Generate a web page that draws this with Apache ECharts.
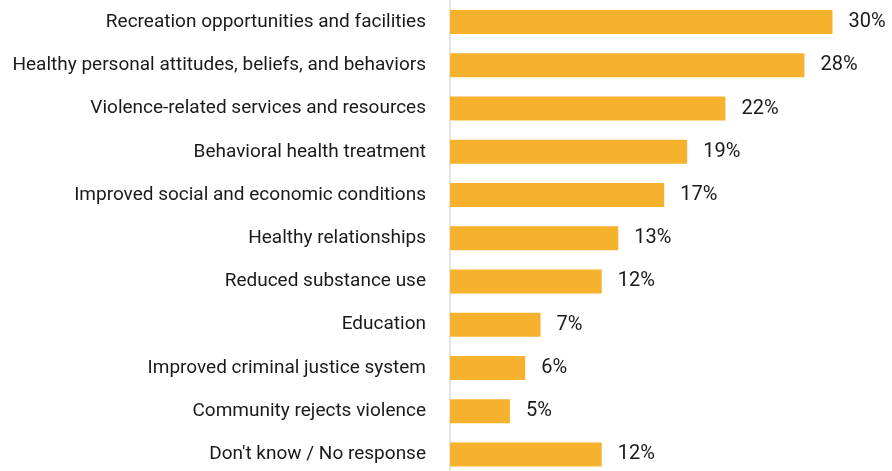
<!DOCTYPE html>
<html><head><meta charset="utf-8">
<script src="https://cdn.jsdelivr.net/npm/echarts@6/dist/echarts.min.js"></script>
<style>html,body{margin:0;padding:0;background:#fff}#c{width:892px;height:471px}</style>
</head><body><div id="c"></div>
<script>
const categories = [
  "Recreation opportunities and facilities",
  "Healthy personal attitudes, beliefs, and behaviors",
  "Violence-related services and resources",
  "Behavioral health treatment",
  "Improved social and economic conditions",
  "Healthy relationships",
  "Reduced substance use",
  "Education",
  "Improved criminal justice system",
  "Community rejects violence",
  "Don't know / No response"
];
const values = [30.1, 27.8, 21.6, 18.6, 16.8, 13.2, 11.9, 7.1, 5.9, 4.7, 11.9];
const valueLabels = ["30%", "28%", "22%", "19%", "17%", "13%", "12%", "7%", "6%", "5%", "12%"];

const FONT = "Roboto, sans-serif";
const chart = echarts.init(document.getElementById('c'));
chart.setOption({
  animation: false,
  grid: { left: 450, top: 0.4, width: 382.5, height: 475.7, outerBoundsMode: 'none', containLabel: false },
  xAxis: { type: 'value', min: 0, max: 30, show: false },
  yAxis: {
    type: 'category', inverse: true, data: categories,
    axisLine: { show: true, lineStyle: { color: '#dcdcdc', width: 1.5 } },
    axisTick: { show: false },
    axisLabel: { margin: 24, color: '#1a1a1a', fontSize: 19, fontFamily: FONT }
  },
  series: [{
    type: 'bar', data: values, barWidth: 24,
    itemStyle: { color: '#F6B22C' },
    label: {
      show: true, position: 'right', distance: 16,
      color: '#1a1a1a', fontSize: 20, fontFamily: FONT,
      formatter: p => valueLabels[p.dataIndex]
    }
  }]
});
</script></body></html>
